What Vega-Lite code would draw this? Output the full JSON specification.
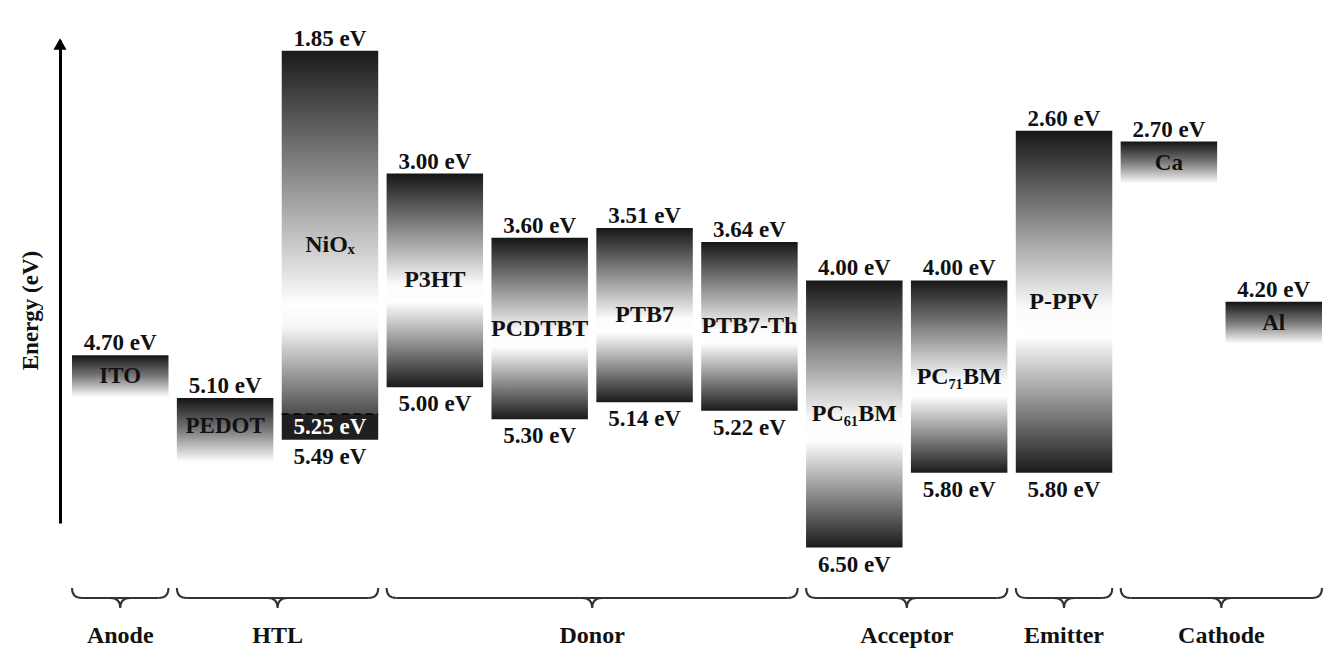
{
  "$schema": "https://vega.github.io/schema/vega-lite/v6.json",
  "width": 1250,
  "height": 483,
  "autosize": {"type": "none"},
  "padding": {"left": 72, "top": 40, "right": 6, "bottom": 129},
  "background": "white",
  "config": {
    "view": {"stroke": null},
    "locale": {"number": {"decimal": ".", "thousands": ",", "grouping": [3], "currency": ["", " eV"]}},
    "text": {"font": "Liberation Serif", "fontWeight": "bold", "fontSize": 23, "color": "#111111"},
    "axisY": {"domain": true, "domainColor": "#000000", "domainWidth": 3, "ticks": false, "labels": false, "grid": false, "offset": 12,
      "titleFont": "Liberation Serif", "titleFontSize": 23, "titleFontWeight": "bold", "titleColor": "#111111", "titlePadding": 18}
  },
  "datasets": {
    "levels": [
      {"material": "ITO", "name": "ITO", "kind": "electrode", "upper": 4.70},
      {"material": "PEDOT", "name": "PEDOT", "kind": "electrode", "upper": 5.10},
      {"material": "NiOx", "name": "NiOₓ", "kind": "htl", "upper": 1.85, "inner": 5.25, "lower": 5.49},
      {"material": "P3HT", "name": "P3HT", "kind": "semi", "upper": 3.00, "lower": 5.00},
      {"material": "PCDTBT", "name": "PCDTBT", "kind": "semi", "upper": 3.60, "lower": 5.30},
      {"material": "PTB7", "name": "PTB7", "kind": "semi", "upper": 3.51, "lower": 5.14},
      {"material": "PTB7-Th", "name": "PTB7-Th", "kind": "semi", "upper": 3.64, "lower": 5.22},
      {"material": "PC61BM", "name": "PC₆₁BM", "kind": "semi", "upper": 4.00, "lower": 6.50},
      {"material": "PC71BM", "name": "PC₇₁BM", "kind": "semi", "upper": 4.00, "lower": 5.80},
      {"material": "P-PPV", "name": "P-PPV", "kind": "semi", "upper": 2.60, "lower": 5.80},
      {"material": "Ca", "name": "Ca", "kind": "electrode", "upper": 2.70},
      {"material": "Al", "name": "Al", "kind": "electrode", "upper": 4.20}
    ],
    "groups": [
      {"group": "Anode", "first": "ITO", "last": "ITO", "anchor": "ITO", "members": 1},
      {"group": "HTL", "first": "PEDOT", "last": "NiOx", "anchor": "NiOx", "members": 2},
      {"group": "Donor", "first": "P3HT", "last": "PTB7-Th", "anchor": "PTB7", "members": 4},
      {"group": "Acceptor", "first": "PC61BM", "last": "PC71BM", "anchor": "PC71BM", "members": 2},
      {"group": "Emitter", "first": "P-PPV", "last": "P-PPV", "anchor": "P-PPV", "members": 1},
      {"group": "Cathode", "first": "Ca", "last": "Al", "anchor": "Al", "members": 2}
    ]
  },
  "layer": [
    {
      "data": {"name": "levels"},
      "transform": [{"filter": "datum.kind === 'semi'"}],
      "mark": {"type": "bar", "color": {"gradient": "linear", "x1": 0, "y1": 0, "x2": 0, "y2": 1,
        "stops": [{"offset": 0, "color": "#161616"}, {"offset": 0.52, "color": "#fbfbfb"}, {"offset": 0.6, "color": "#ffffff"}, {"offset": 1, "color": "#1a1a1a"}]}},
      "encoding": {
        "x": {"field": "material", "type": "nominal", "axis": null, "scale": {"type": "band", "domain": ["ITO", "PEDOT", "NiOx", "P3HT", "PCDTBT", "PTB7", "PTB7-Th", "PC61BM", "PC71BM", "P-PPV", "Ca", "Al"], "paddingInner": 0.08, "paddingOuter": 0}},
        "y": {"field": "upper", "type": "quantitative", "title": "Energy (eV)", "scale": {"domain": [1.75, 6.27], "reverse": true, "zero": false, "nice": false},
          "axis": {"orient": "left", "title": "Energy (eV)", "titleY": 270}},
        "y2": {"field": "lower"}
      }
    },
    {
      "data": {"name": "levels"},
      "transform": [{"filter": "datum.kind === 'htl'"}],
      "mark": {"type": "bar", "color": {"gradient": "linear", "x1": 0, "y1": 0, "x2": 0, "y2": 1,
        "stops": [{"offset": 0, "color": "#1a1a1a"}, {"offset": 0.7, "color": "#ffffff"}, {"offset": 0.76, "color": "#f6f6f6"}, {"offset": 1, "color": "#4d4d4d"}]}},
      "encoding": {
        "x": {"field": "material", "type": "nominal", "axis": null},
        "y": {"field": "upper", "type": "quantitative", "title": "Energy (eV)"},
        "y2": {"field": "inner"}
      }
    },
    {
      "data": {"name": "levels"},
      "transform": [{"filter": "datum.kind === 'htl'"}],
      "mark": {"type": "bar", "color": "#1f1f1f"},
      "encoding": {
        "x": {"field": "material", "type": "nominal", "axis": null},
        "y": {"field": "inner", "type": "quantitative", "title": "Energy (eV)"},
        "y2": {"field": "lower"}
      }
    },
    {
      "data": {"name": "levels"},
      "transform": [{"filter": "datum.kind === 'htl'"}],
      "mark": {"type": "rule", "color": "#000000", "strokeWidth": 1.5, "strokeDash": [7, 5]},
      "encoding": {
        "x": {"field": "material", "type": "nominal", "axis": null, "bandPosition": 0},
        "x2": {"field": "material", "bandPosition": 1},
        "y": {"field": "inner", "type": "quantitative", "title": "Energy (eV)"}
      }
    },
    {
      "data": {"name": "levels"},
      "transform": [{"filter": "datum.kind === 'electrode' && datum.material !== 'PEDOT'"}],
      "mark": {"type": "bar", "y2Offset": 42, "color": {"gradient": "linear", "x1": 0, "y1": 0, "x2": 0, "y2": 1,
        "stops": [{"offset": 0, "color": "#141414"}, {"offset": 0.5, "color": "#7a7a7a"}, {"offset": 1, "color": "#ffffff"}]}},
      "encoding": {
        "x": {"field": "material", "type": "nominal", "axis": null},
        "y": {"field": "upper", "type": "quantitative", "title": "Energy (eV)"},
        "y2": {"field": "upper"}
      }
    },
    {
      "data": {"name": "levels"},
      "transform": [{"filter": "datum.material === 'PEDOT'"}],
      "mark": {"type": "bar", "y2Offset": 64, "color": {"gradient": "linear", "x1": 0, "y1": 0, "x2": 0, "y2": 1,
        "stops": [{"offset": 0, "color": "#141414"}, {"offset": 0.5, "color": "#7a7a7a"}, {"offset": 1, "color": "#ffffff"}]}},
      "encoding": {
        "x": {"field": "material", "type": "nominal", "axis": null},
        "y": {"field": "upper", "type": "quantitative", "title": "Energy (eV)"},
        "y2": {"field": "upper"}
      }
    },
    {
      "data": {"name": "levels"},
      "transform": [{"filter": "datum.kind === 'electrode' && datum.material !== 'PEDOT'"}],
      "mark": {"type": "text", "baseline": "middle", "dy": 21},
      "encoding": {
        "x": {"field": "material", "type": "nominal", "axis": null},
        "y": {"field": "upper", "type": "quantitative", "title": "Energy (eV)"},
        "text": {"field": "name"}
      }
    },
    {
      "data": {"name": "levels"},
      "transform": [{"filter": "datum.material === 'PEDOT'"}],
      "mark": {"type": "text", "baseline": "middle", "dy": 28},
      "encoding": {
        "x": {"field": "material", "type": "nominal", "axis": null},
        "y": {"field": "upper", "type": "quantitative", "title": "Energy (eV)"},
        "text": {"field": "name"}
      }
    },
    {
      "data": {"name": "levels"},
      "transform": [
        {"filter": "datum.kind !== 'electrode'"},
        {"fold": ["upper", "lower"], "as": ["edge", "energy"]},
        {"aggregate": [{"op": "mean", "field": "energy", "as": "mid"}], "groupby": ["material", "name"]}
      ],
      "mark": {"type": "text", "baseline": "middle", "fontSize": 24},
      "encoding": {
        "x": {"field": "material", "type": "nominal", "axis": null},
        "y": {"field": "mid", "type": "quantitative", "title": "Energy (eV)"},
        "text": {"field": "name"}
      }
    },
    {
      "data": {"name": "levels"},
      "mark": {"type": "text", "baseline": "alphabetic", "dy": -5},
      "encoding": {
        "x": {"field": "material", "type": "nominal", "axis": null},
        "y": {"field": "upper", "type": "quantitative", "title": "Energy (eV)"},
        "text": {"field": "upper", "type": "quantitative", "format": "$.2f"}
      }
    },
    {
      "data": {"name": "levels"},
      "transform": [{"filter": "datum.kind !== 'electrode'"}],
      "mark": {"type": "text", "baseline": "top", "dy": 6},
      "encoding": {
        "x": {"field": "material", "type": "nominal", "axis": null},
        "y": {"field": "lower", "type": "quantitative", "title": "Energy (eV)"},
        "text": {"field": "lower", "type": "quantitative", "format": "$.2f"}
      }
    },
    {
      "data": {"name": "levels"},
      "transform": [{"filter": "datum.kind === 'htl'"}],
      "mark": {"type": "text", "baseline": "top", "dy": 2, "color": "#ffffff"},
      "encoding": {
        "x": {"field": "material", "type": "nominal", "axis": null},
        "y": {"field": "inner", "type": "quantitative", "title": "Energy (eV)"},
        "text": {"field": "inner", "type": "quantitative", "format": "$.2f"}
      }
    },
    {
      "data": {"name": "groups"},
      "mark": {"type": "rule", "color": "#333333", "strokeWidth": 2, "xOffset": 10, "x2Offset": -10},
      "encoding": {
        "x": {"field": "first", "type": "nominal", "axis": null, "bandPosition": 0},
        "x2": {"field": "last", "bandPosition": 1},
        "y": {"datum": 6.972, "type": "quantitative", "title": "Energy (eV)"}
      }
    },
    {
      "data": {"name": "groups"},
      "mark": {"type": "point", "shape": "M 0 -1 Q 0 0 1 0", "filled": false, "size": 400, "color": "#333333", "strokeWidth": 2, "opacity": 1},
      "encoding": {
        "x": {"field": "first", "type": "nominal", "axis": null, "bandPosition": 0},
        "y": {"datum": 6.972, "type": "quantitative", "title": "Energy (eV)"}
      }
    },
    {
      "data": {"name": "groups"},
      "mark": {"type": "point", "shape": "M 0 -1 Q 0 0 -1 0", "filled": false, "size": 400, "color": "#333333", "strokeWidth": 2, "opacity": 1},
      "encoding": {
        "x": {"field": "last", "type": "nominal", "axis": null, "bandPosition": 1},
        "y": {"datum": 6.972, "type": "quantitative", "title": "Energy (eV)"}
      }
    },
    {
      "data": {"name": "groups"},
      "transform": [{"filter": "datum.members % 2 === 1"}],
      "mark": {"type": "point", "shape": "M -1 0 Q 0 0 0 1 Q 0 0 1 0", "filled": false, "size": 400, "color": "#333333", "strokeWidth": 2, "opacity": 1},
      "encoding": {
        "x": {"field": "anchor", "type": "nominal", "axis": null, "bandPosition": 0.5},
        "y": {"datum": 6.972, "type": "quantitative", "title": "Energy (eV)"}
      }
    },
    {
      "data": {"name": "groups"},
      "transform": [{"filter": "datum.members % 2 === 0"}],
      "mark": {"type": "point", "shape": "M -1 0 Q 0 0 0 1 Q 0 0 1 0", "filled": false, "size": 400, "color": "#333333", "strokeWidth": 2, "opacity": 1},
      "encoding": {
        "x": {"field": "anchor", "type": "nominal", "axis": null, "bandPosition": -0.043},
        "y": {"datum": 6.972, "type": "quantitative", "title": "Energy (eV)"}
      }
    },
    {
      "data": {"name": "groups"},
      "transform": [{"filter": "datum.members % 2 === 1"}],
      "mark": {"type": "text", "baseline": "middle", "fontSize": 24},
      "encoding": {
        "x": {"field": "anchor", "type": "nominal", "axis": null, "bandPosition": 0.5},
        "y": {"datum": 7.327, "type": "quantitative", "title": "Energy (eV)"},
        "text": {"field": "group"}
      }
    },
    {
      "data": {"name": "groups"},
      "transform": [{"filter": "datum.members % 2 === 0"}],
      "mark": {"type": "text", "baseline": "middle", "fontSize": 24},
      "encoding": {
        "x": {"field": "anchor", "type": "nominal", "axis": null, "bandPosition": -0.043},
        "y": {"datum": 7.327, "type": "quantitative", "title": "Energy (eV)"},
        "text": {"field": "group"}
      }
    },
    {
      "data": {"values": [{"part": "arrowhead"}]},
      "mark": {"type": "point", "shape": "triangle-up", "filled": true, "size": 170, "color": "#000000", "opacity": 1, "xOffset": -12, "yOffset": 4},
      "encoding": {
        "x": {"datum": "ITO", "type": "nominal", "axis": null, "bandPosition": 0},
        "y": {"datum": 1.75, "type": "quantitative", "title": "Energy (eV)"}
      }
    }
  ]
}
